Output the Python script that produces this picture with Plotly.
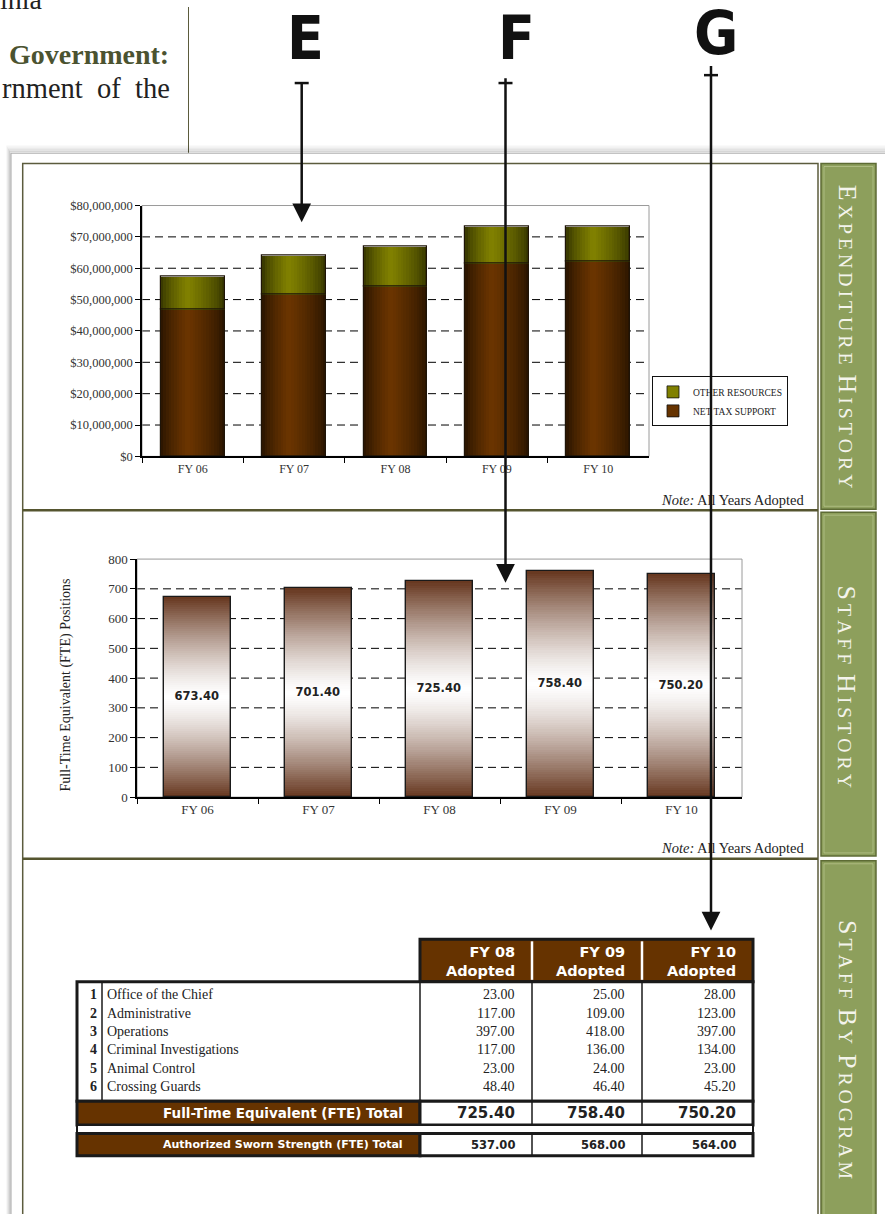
import plotly.graph_objects as go

W, H = 885, 1214


def X(px):
    return px / W


def Y(py):
    return 1 - py / H


# ---------------- data ----------------
years = ["FY 06", "FY 07", "FY 08", "FY 09", "FY 10"]
net_tax_support = [46_900_000, 51_700_000, 54_200_000, 61_500_000, 62_300_000]
other_resources = [10_400_000, 12_200_000, 12_800_000, 11_700_000, 11_000_000]
exp_tick_vals = [0, 10_000_000, 20_000_000, 30_000_000, 40_000_000,
                 50_000_000, 60_000_000, 70_000_000, 80_000_000]

fte_positions = [673.40, 701.40, 725.40, 758.40, 750.20]
fte_tick_vals = [0, 100, 200, 300, 400, 500, 600, 700, 800]

table_years = ["FY 08", "FY 09", "FY 10"]
programs = ["Office of the Chief", "Administrative", "Operations",
            "Criminal Investigations", "Animal Control", "Crossing Guards"]
staff_fy08 = [23.00, 117.00, 397.00, 117.00, 23.00, 48.40]
staff_fy09 = [25.00, 109.00, 418.00, 136.00, 24.00, 46.40]
staff_fy10 = [28.00, 123.00, 397.00, 134.00, 23.00, 45.20]
fte_totals = [725.40, 758.40, 750.20]
sworn_totals = [537.00, 568.00, 564.00]

tab_titles = ["EXPENDITURE HISTORY", "STAFF HISTORY", "STAFF BY PROGRAM"]

# ---------------- styles ----------------
SERIF = "Liberation Serif, Times New Roman, serif"
SANS = "DejaVu Sans, Verdana, sans-serif"
NARROW = "Liberation Sans Narrow, DejaVu Sans Condensed, Arial Narrow, sans-serif"
BROWN = "#663300"


def lerp(c1, c2, t):
    t = max(0.0, min(1.0, t))
    return "rgb(%d,%d,%d)" % tuple(round(a + (b - a) * t) for a, b in zip(c1, c2))


fig = go.Figure()

# ---------------- chart 1: expenditure history ----------------
BW1 = 0.63
N1 = 24


def hprof(f, c=0.42):
    d = abs(f - c) / (c if f < c else 1 - c)
    return (1 - d) ** 0.7


series1 = [
    (net_tax_support, None, (36, 18, 0), (108, 53, 0)),
    (other_resources, net_tax_support, (48, 48, 0), (130, 130, 0)),
]
for vals, base, dark, light in series1:
    for i in range(N1):
        f = (i + 0.5) / N1
        wid = BW1 / N1 * (1.7 if i < N1 - 1 else 1.0)
        fig.add_trace(go.Bar(
            x=years, y=vals, base=base, width=wid, offset=-BW1 / 2 + i * BW1 / N1,
            marker=dict(color=lerp(dark, light, hprof(f)), line=dict(width=0)),
            showlegend=False, hoverinfo="skip", xaxis="x", yaxis="y"))
    fig.add_trace(go.Bar(
        x=years, y=vals, base=base, width=BW1, offset=-BW1 / 2,
        marker=dict(color="rgba(0,0,0,0)", line=dict(color="#1e1408", width=1.2)),
        showlegend=False, hoverinfo="skip", xaxis="x", yaxis="y"))

# legend entries
fig.add_trace(go.Bar(x=[years[0]], y=[0], width=0.0001, name="OTHER RESOURCES",
                     marker=dict(color="#808000", line=dict(color="#111", width=0.8)),
                     xaxis="x", yaxis="y", hoverinfo="skip", legendrank=1))
fig.add_trace(go.Bar(x=[years[0]], y=[0], width=0.0001, name="NET TAX SUPPORT",
                     marker=dict(color=BROWN, line=dict(color="#111", width=0.8)),
                     xaxis="x", yaxis="y", hoverinfo="skip", legendrank=2))

# ---------------- chart 2: staff history ----------------
BW2 = 0.56
N2 = 100
c_brown = (102, 54, 30)
c_white = (255, 255, 255)
for k in range(N2):
    f = (k + 0.5) / N2
    t = abs(2 * f - 1) ** 1.35
    scale = 1.8 if k < N2 - 1 else 1.0
    fig.add_trace(go.Bar(
        x=years, y=[v / N2 * scale for v in fte_positions],
        base=[v * k / N2 for v in fte_positions], width=BW2,
        marker=dict(color=lerp(c_white, c_brown, t), line=dict(width=0)),
        showlegend=False, hoverinfo="skip", xaxis="x2", yaxis="y2"))
fig.add_trace(go.Bar(
    x=years, y=fte_positions, width=BW2,
    text=["<b>%.2f</b>" % v for v in fte_positions],
    textposition="inside", insidetextanchor="middle",
    textfont=dict(family=SANS, size=11.5, color="#222"),
    marker=dict(color="rgba(0,0,0,0)", line=dict(color="#1a1a1a", width=1.4)),
    showlegend=False, hoverinfo="skip", xaxis="x2", yaxis="y2"))

# ---------------- axes ----------------
common_x = dict(type="category", tickson="boundaries", ticks="outside", ticklen=5,
                tickcolor="#000", showline=True, linecolor="#000", linewidth=1.5,
                showgrid=False, zeroline=False, fixedrange=True)
common_y = dict(ticks="outside", ticklen=5, tickcolor="#000", showline=True,
                linecolor="#000", linewidth=1.5, zeroline=False, fixedrange=True,
                showgrid=False)

fig.update_layout(
    xaxis=dict(domain=[X(142), X(649)], anchor="y",
               tickfont=dict(family=SERIF, size=12, color="#333"), **common_x),
    yaxis=dict(domain=[Y(455), Y(201)], anchor="x", range=[0, 80_000_000],
               tickvals=exp_tick_vals, tickformat="$,.0f",
               tickfont=dict(family=SERIF, size=12.5, color="#333"), **common_y),
    xaxis2=dict(domain=[X(137), X(742)], anchor="y2",
                tickfont=dict(family=SERIF, size=13, color="#333"), **common_x),
    yaxis2=dict(domain=[Y(800), Y(559)], anchor="x2", range=[0, 800],
                tickvals=fte_tick_vals,
                tickfont=dict(family=SERIF, size=13, color="#333"), **common_y),
)

shapes = []
annotations = []


def rect(x0, y0, x1, y1, fill=None, line="#000", lw=1.0, layer="below"):
    shapes.append(dict(type="rect", xref="paper", yref="paper",
                       x0=X(x0), x1=X(x1), y0=Y(y1), y1=Y(y0),
                       fillcolor=fill if fill else "rgba(0,0,0,0)",
                       line=dict(color=line, width=lw), layer=layer))


def line(x0, y0, x1, y1, color="#000", lw=1.0, layer="below"):
    shapes.append(dict(type="line", xref="paper", yref="paper",
                       x0=X(x0), x1=X(x1), y0=Y(y0), y1=Y(y1),
                       line=dict(color=color, width=lw), layer=layer))


def text(s, x, y, size, color="#000", family=SERIF, xanchor="center",
         yanchor="middle", angle=0, align="center"):
    annotations.append(dict(text=s, x=X(x), y=Y(y), xref="paper", yref="paper",
                            showarrow=False, xanchor=xanchor, yanchor=yanchor,
                            textangle=angle, align=align,
                            font=dict(family=family, size=size, color=color)))


# ---------------- page furniture (drawn first, underneath) ----------------
line(188.5, 0, 188.5, 148, color="#5b5b3c", lw=1)
for i, op in enumerate([0.04, 0.07, 0.11, 0.16]):
    rect(11 - (4 - i), 141 + i * 1.7, 900, 1230, fill=None,
         line="rgba(0,0,0,%.2f)" % op, lw=1.5)
rect(11, 148, 900, 1230, fill="white", line="#a5a5a5", lw=1)
rect(22.7, 158.5, 818, 1230, fill=None, line="#5c5c3d", lw=1.5)
line(22.7, 509.5, 818, 509.5, color="#55552f", lw=2.5)
line(22.7, 862.5, 818, 862.5, color="#55552f", lw=2.5)

# dashed grid lines and gray plot-area borders, drawn from the tick values
for xr, yr, ticks in (("x domain", "y", exp_tick_vals), ("x2 domain", "y2", fte_tick_vals)):
    for v in ticks[1:-1]:
        shapes.append(dict(type="line", xref=xr, yref=yr, x0=0, x1=1, y0=v, y1=v,
                           line=dict(color="#000", width=1, dash="8px,5px"),
                           layer="below"))
for xr, yr in (("x domain", "y domain"), ("x2 domain", "y2 domain")):
    shapes.append(dict(type="rect", xref=xr, yref=yr, x0=0, x1=1, y0=0, y1=1,
                       line=dict(color="#9a9a9a", width=1), layer="below"))

# top-left page text
text("ginia", 45, 10, 28, color="#222", xanchor="right", yanchor="bottom")
text("<b>Government:</b>", 171, 48, 28, color="#4b5330", xanchor="right")
text("rnment\u2002of\u2002the", 172, 83, 28.5, color="#222", xanchor="right")

# side tabs
tab_spans = [(158.5, 508.5), (511.5, 859.5), (864.5, 1230)]
tab_centers = [334, 688, 1056]
for (t0, t1), cy, title in zip(tab_spans, tab_centers, tab_titles):
    rect(821, t0, 876, t1, fill="#8d9f5c", line="#5d6b34", lw=1.5)
    rect(824, t0 + 3, 873, t1 - 3, fill=None, line="rgba(205,215,165,0.5)", lw=1)
    words = []
    for w in title.split(" "):
        rest = "\u2009".join(w[1:])
        words.append('<span style="font-size:26px">%s</span>\u2009%s' % (w[0], rest))
    text("\u00a0\u00a0".join(words), 847, cy, 19.8, color="#f4f4ec",
         family=SERIF, angle=90)

# E F G labels and arrows
letters = ["E", "F", "G"]
letter_x = [305, 516, 716]
letter_y = [31, 31, 26]
arrow_x = [301.7, 505.5, 711]
arrow_start = [77, 77, 69]
arrow_tip = [218, 583, 935]
for L, lx, ly, ax_, a0, a1 in zip(letters, letter_x, letter_y, arrow_x, arrow_start, arrow_tip):
    text("<b>%s</b>" % L, lx, ly, 60, color="#111", family=NARROW)
    line(ax_ - 7, a0, ax_ + 7, a0, color="#111", lw=2.5, layer="above")
    annotations.append(dict(x=X(ax_), y=Y(a1), xref="paper", yref="paper",
                            ax=0, ay=-(a1 - a0), axref="pixel", ayref="pixel",
                            text="", showarrow=True, arrowhead=2, arrowsize=1.5,
                            arrowwidth=2.5, arrowcolor="#111"))

# notes
text("<i>Note:</i> All Years Adopted", 807, 499, 14.5, color="#222", xanchor="right")
text("<i>Note:</i> All Years Adopted", 807, 852, 14.5, color="#222", xanchor="right")

# chart 2 y-axis title
text("Full-Time Equivalent (FTE) Positions", 66, 687, 14, color="#222", angle=-90)

# ---------------- staff-by-program table ----------------
col_edges = [420, 532, 642, 753]
left_edge = 77
num_edge = 102
head_top, head_bot = 944, 987
body_bot = 1108
fte_bot = 1132
auth_top, auth_bot = 1140.5, 1163

rect(col_edges[0], head_top, col_edges[-1], head_bot, fill=BROWN, line="#1a1a1a", lw=3)
for cx in col_edges[1:-1]:
    line(cx, head_top + 2, cx, head_bot - 2, color="white", lw=2.5)
rect(left_edge, head_bot, col_edges[-1], body_bot, fill="white", line="#1a1a1a", lw=3)
line(num_edge, head_bot, num_edge, body_bot, color="#1a1a1a", lw=1.5)
for cx in col_edges[:-1]:
    line(cx, head_bot, cx, body_bot, color="#1a1a1a", lw=1.5)
rect(left_edge, body_bot, col_edges[0], fte_bot, fill=BROWN, line="#1a1a1a", lw=3)
rect(col_edges[0], body_bot, col_edges[-1], fte_bot, fill="white", line="#1a1a1a", lw=3)
rect(left_edge, fte_bot, col_edges[-1], auth_top, fill="white", line="#1a1a1a", lw=2)
rect(left_edge, auth_top, col_edges[0], auth_bot, fill=BROWN, line="#1a1a1a", lw=3)
rect(col_edges[0], auth_top, col_edges[-1], auth_bot, fill="white", line="#1a1a1a", lw=3)
for cx in col_edges[1:-1]:
    line(cx, body_bot, cx, fte_bot, color="#1a1a1a", lw=1.5)
    line(cx, auth_top, cx, auth_bot, color="#1a1a1a", lw=1.5)

col_right = [c - 15 for c in col_edges[1:]]
for yr, rx in zip(table_years, col_right):
    text("<b>%s<br>Adopted</b>" % yr, rx, (head_top + head_bot) / 2 + 1, 14.5,
         color="white", family=SANS, xanchor="right", align="right")

row_y0, row_dy = 1000, 18.6
for i, name in enumerate(programs):
    ry = row_y0 + i * row_dy
    text("<b>%d</b>" % (i + 1), 99, ry, 14, color="#222", xanchor="right")
    text(name, 105, ry, 14, color="#222", xanchor="left")
    for vals, rx in zip((staff_fy08, staff_fy09, staff_fy10), col_right):
        text("%.2f" % vals[i], rx, ry, 14, color="#222", xanchor="right")

text("<b>Full-Time Equivalent (FTE) Total</b>", 405, (body_bot + fte_bot) / 2, 13.5,
     color="white", family=SANS, xanchor="right")
for v, rx in zip(fte_totals, col_right):
    text("<b>%.2f</b>" % v, rx, (body_bot + fte_bot) / 2, 15, color="#222",
         family=SANS, xanchor="right")
text("<b>Authorized Sworn Strength (FTE) Total</b>", 405, (auth_top + auth_bot) / 2, 11,
     color="white", family=SANS, xanchor="right")
for v, rx in zip(sworn_totals, col_right):
    text("<b>%.2f</b>" % v, rx, (auth_top + auth_bot) / 2, 11.5, color="#222",
         family=SANS, xanchor="right")

fig.update_layout(
    width=W, height=H, autosize=False,
    margin=dict(l=0, r=0, t=0, b=0),
    paper_bgcolor="white", plot_bgcolor="rgba(0,0,0,0)",
    barmode="overlay", bargap=0,
    font=dict(family=SERIF, color="#222"),
    showlegend=True,
    legend=dict(x=X(652), y=Y(374), xanchor="left", yanchor="top",
                bgcolor="white", bordercolor="#111", borderwidth=1,
                font=dict(family=SERIF, size=9.5, color="#222"),
                traceorder="normal", itemwidth=30, tracegroupgap=0),
    shapes=shapes,
    annotations=annotations,
)

fig.write_html("out.html", config={"displayModeBar": False},
               post_script="document.body.style.margin='0';")
